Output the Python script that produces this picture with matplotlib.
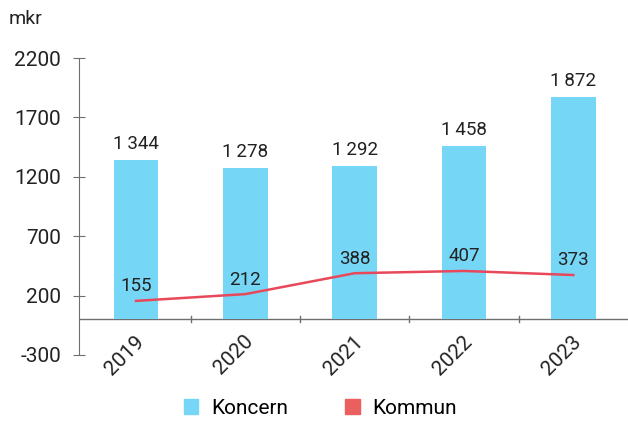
import numpy as np
import matplotlib.pyplot as plt
from matplotlib.patches import Patch

plt.rcParams['font.family'] = ['Roboto', 'DejaVu Sans']
plt.rcParams['axes.unicode_minus'] = False

ar = ['2019', '2020', '2021', '2022', '2023']
koncern = [1344, 1278, 1292, 1458, 1872]
kommun = [155, 212, 388, 407, 373]

BLA = '#76d6f6'
ROD = '#e8485a'
GRA = '#6f6f6f'
TEXT = '#222222'

fig = plt.figure(figsize=(6.28, 4.21), dpi=100)
ax = fig.add_axes([0.126, 0.157, 0.874, 0.705])

x = np.arange(len(ar))
ax.bar(x, koncern, width=0.41, color=BLA, zorder=2)
ax.plot(x, kommun, color=ROD, lw=1.8, zorder=3)

for xi, v in zip(x, koncern):
    ax.annotate(f'{v:,}'.replace(',', '\u2009'), (xi, v), xytext=(0, 5),
                textcoords='offset points', ha='center', va='bottom',
                fontsize=13.5, color=TEXT)
for xi, v in zip(x, kommun):
    ax.annotate(str(v), (xi, v), xytext=(0, 4), textcoords='offset points',
                ha='center', va='bottom', fontsize=13.5, color=TEXT, zorder=4)

ax.set_xlim(-0.52, 4.5)
ax.set_ylim(-300, 2200)
ax.set_yticks([-300, 200, 700, 1200, 1700, 2200])

for s in ['top', 'right', 'bottom']:
    ax.spines[s].set_visible(False)
ax.spines['left'].set_color(GRA)
ax.axhline(0, color=GRA, lw=1, zorder=1)

ax.tick_params(axis='y', direction='inout', length=8, color=GRA,
               labelsize=15, labelcolor=TEXT, pad=9)
ax.set_xticks([])
for xi, lab in zip(x, ar):
    ax.annotate(lab, (xi, 0), xytext=(-1, -9), textcoords='offset points',
                rotation=45, ha='right', va='top', rotation_mode='anchor',
                fontsize=15, color=TEXT)
for b in x[:-1] + 0.5:
    ax.plot([b, b], [-25, 25], color=GRA, lw=1, zorder=1)

fig.text(0.013, 0.955, 'mkr', fontsize=14, color=TEXT, va='center')

handles = [Patch(color=BLA), Patch(color='#ea605e')]
fig.legend(handles, ['Koncern', 'Kommun'], loc='center', bbox_to_anchor=(0.51, 0.03),
           ncol=2, frameon=False, fontsize=15, handlelength=0.7, handleheight=0.7,
           columnspacing=2.75, handletextpad=0.6, borderaxespad=0)

fig.savefig('out.png', dpi=100)
